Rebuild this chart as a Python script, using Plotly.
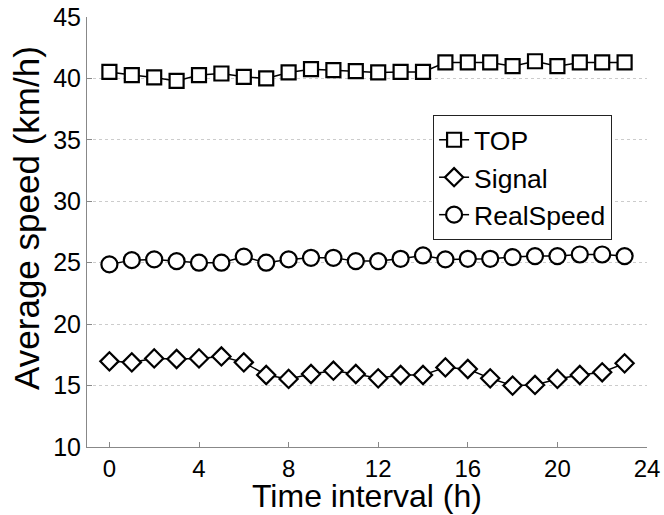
import plotly.graph_objects as go

hours = list(range(24))
top = [40.53, 40.27, 40.08, 39.80, 40.27, 40.40, 40.13, 40.00, 40.49, 40.75, 40.67, 40.60,
       40.49, 40.53, 40.53, 41.30, 41.30, 41.30, 41.00, 41.40, 41.00, 41.30, 41.30, 41.30]
signal = [16.97, 16.89, 17.21, 17.16, 17.21, 17.37, 16.89, 15.86, 15.54, 15.94, 16.21, 15.94,
          15.59, 15.86, 15.86, 16.48, 16.35, 15.59, 15.00, 15.05, 15.54, 15.86, 16.08, 16.81]
realspeed = [24.86, 25.21, 25.27, 25.13, 25.00, 25.00, 25.49, 25.00, 25.27, 25.40, 25.40, 25.13,
             25.13, 25.32, 25.59, 25.27, 25.32, 25.32, 25.46, 25.54, 25.54, 25.67, 25.67, 25.54]
series_names = ["TOP", "Signal", "RealSpeed"]
x_ticks = [0, 4, 8, 12, 16, 20, 24]
y_ticks = [10, 15, 20, 25, 30, 35, 40, 45]
x_title = "Time interval (h)"
y_title = "Average speed (km/h)"

FONT = "Liberation Sans, Arial, sans-serif"

fig = go.Figure()
specs = [(top, "square", 14), (signal, "diamond", 14), (realspeed, "circle", 16)]
for name, (vals, sym, sz) in zip(series_names, specs):
    fig.add_trace(go.Scatter(
        x=hours, y=vals, name=name, mode="lines+markers",
        line=dict(color="black", width=1.5),
        marker=dict(symbol=sym, size=sz, color="white",
                    line=dict(color="black", width=2.2)),
    ))

fig.update_layout(
    width=664, height=515,
    margin=dict(l=87, r=17, t=17, b=68, autoexpand=False),
    paper_bgcolor="white", plot_bgcolor="white",
    font=dict(family=FONT, color="black"),
    showlegend=True,
    legend=dict(x=0.618, y=0.772, xanchor="left", yanchor="top",
                bordercolor="#222222", borderwidth=1, bgcolor="white",
                font=dict(size=26.5, family=FONT, color="black"),
                itemwidth=30, tracegroupgap=0),
    annotations=[
        dict(text=x_title, xref="paper", yref="paper", x=0.5, y=-0.158,
             xanchor="center", yanchor="bottom", showarrow=False, borderpad=0,
             font=dict(size=32, family=FONT, color="black")),
        dict(text=y_title, xref="paper", yref="paper", x=-0.107, y=0.533,
             xanchor="center", yanchor="middle", showarrow=False, textangle=-90,
             font=dict(size=35, family=FONT, color="black")),
    ],
)
fig.update_xaxes(
    range=[-1, 24], tickvals=x_ticks, ticktext=[str(v) for v in x_ticks],
    showgrid=False, zeroline=False, automargin=False,
    showline=True, linecolor="#888888", linewidth=1,
    ticks="inside", ticklen=5, tickcolor="#888888",
    tickfont=dict(size=24, family=FONT, color="black"),
)
fig.update_yaxes(
    range=[10, 45], tickvals=y_ticks, ticktext=[str(v) for v in y_ticks],
    showgrid=True, gridcolor="#cccccc", griddash="dot", gridwidth=1,
    zeroline=False, automargin=False,
    showline=True, linecolor="#888888", linewidth=1,
    ticks="inside", ticklen=5, tickcolor="#888888",
    tickfont=dict(size=25, family=FONT, color="black"),
)

fig.write_html("out.html", config={"displayModeBar": False},
               post_script="document.body.style.margin='0px';document.body.style.padding='0px';")
